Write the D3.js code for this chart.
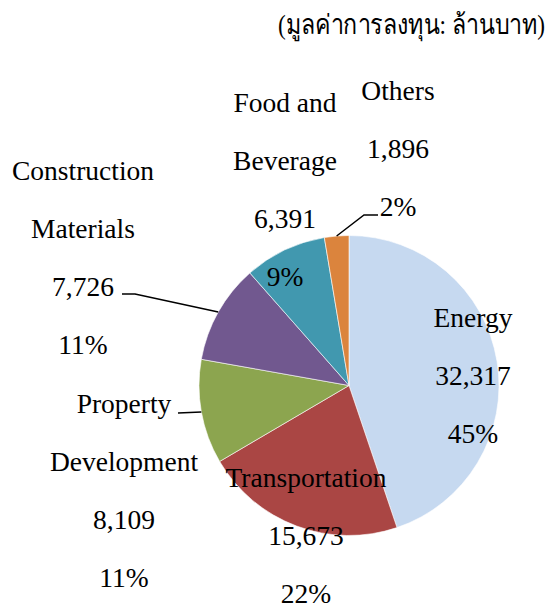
<!DOCTYPE html>
<html><head><meta charset="utf-8">
<script src="https://cdn.jsdelivr.net/npm/d3@7"></script>
<style>body{margin:0;background:#fff}svg{display:block}</style>
</head><body><div id="chart"></div>
<script>
const categories = ["Energy","Transportation","Property Development","Construction Materials","Food and Beverage","Others"];
const values = [32317,15673,8109,7726,6391,1896];
const percents = ["45%","22%","11%","11%","9%","2%"];
const valueLabels = ["32,317","15,673","8,109","7,726","6,391","1,896"];
const colors = ["#C6D9F0","#AA4644","#8CA54F","#71588F","#4198AF","#DB843D"];
const title = "(มูลค่าการลงทุน: ล้านบาท)";

const FONT = '"Liberation Serif"';
const W = 552, H = 604, cx = 349, cy = 385.5, R = 150;
const svg = d3.select("#chart").append("svg").attr("width", W).attr("height", H);

const pie = d3.pie().sort(null).value(d => d)(values);
const arc = d3.arc().innerRadius(0).outerRadius(R);
const g = svg.append("g").attr("transform", `translate(${cx},${cy})`);
g.selectAll("path").data(pie).join("path")
  .attr("d", arc).attr("fill", (d, i) => colors[i])
  .attr("stroke", "#fff").attr("stroke-width", 0.6);

// label layout: lines, centre x, first baseline
const labelLayout = [
  {lines: ["Energy", valueLabels[0], percents[0]], x: 473, y: 327},
  {lines: ["Transportation", valueLabels[1], percents[1]], x: 306, y: 487},
  {lines: ["Property", "Development", valueLabels[2], percents[2]], x: 124, y: 413},
  {lines: ["Construction", "Materials", valueLabels[3], percents[3]], x: 83, y: 180},
  {lines: ["Food and", "Beverage", valueLabels[4], percents[4]], x: 285, y: 111.5},
  {lines: ["Others", valueLabels[5], percents[5]], x: 398, y: 99.5}
];
const lh = 58;
labelLayout.forEach(l => {
  l.lines.forEach((s, j) => {
    svg.append("text").attr("text-anchor", "middle")
      .attr("x", l.x).attr("y", l.y + j * lh)
      .style("font-family", FONT).attr("font-size", 27.5).attr("fill", "#000")
      .text(s);
  });
});

// leader lines from slice mid-angle at outer radius
function edgePoint(i) {
  const a = (pie[i].startAngle + pie[i].endAngle) / 2;
  return [cx + R * Math.sin(a), cy - R * Math.cos(a)];
}
const leaders = [
  {i: 3, pts: [[122, 294], [135, 294]]},
  {i: 2, pts: [[178, 413]]},
  {i: 5, pts: [[378, 215], [364, 215]]}
];
leaders.forEach(l => {
  const pts = l.pts.concat([edgePoint(l.i)]);
  svg.append("path").attr("d", d3.line()(pts)).attr("fill", "none")
    .attr("stroke", "#000").attr("stroke-width", 1.5);
});

svg.append("text").attr("x", 545).attr("y", 34).attr("text-anchor", "end")
  .style("font-family", FONT).attr("font-size", 27.5).attr("fill", "#000")
  .attr("textLength", 267).attr("lengthAdjust", "spacingAndGlyphs").text(title);
</script></body></html>
